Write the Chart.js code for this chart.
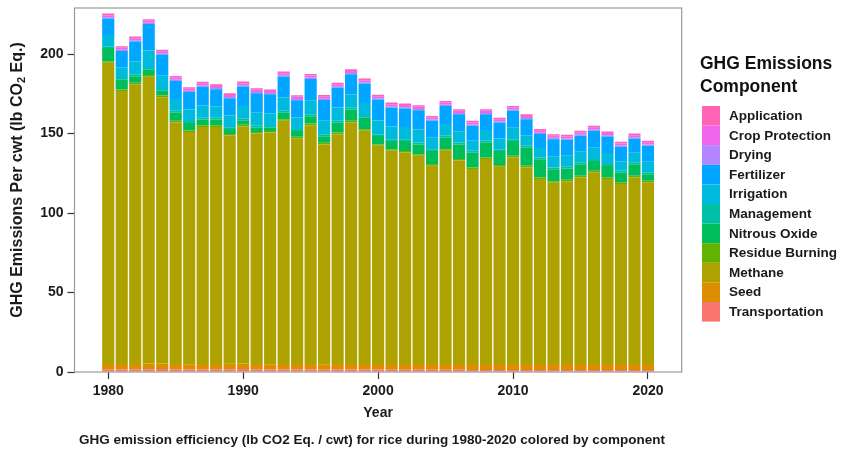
<!DOCTYPE html>
<html><head><meta charset="utf-8">
<script src="https://cdn.jsdelivr.net/npm/chart.js@4.4.1/dist/chart.umd.min.js"></script>
<style>html,body{margin:0;padding:0;background:#fff;}#wrap{width:846px;height:450px;position:relative;}</style>
</head><body><div id="wrap"><canvas id="c" width="846" height="450"></canvas></div>
<script>
const years = [1980,1981,1982,1983,1984,1985,1986,1987,1988,1989,1990,1991,1992,1993,1994,1995,1996,1997,1998,1999,2000,2001,2002,2003,2004,2005,2006,2007,2008,2009,2010,2011,2012,2013,2014,2015,2016,2017,2018,2019,2020];
const transportation = [1.4,1.5,1.5,1.8,1.9,1.6,1.5,1.5,1.5,1.7,1.9,1.6,1.5,1.5,1.5,1.5,1.4,1.5,1.5,1.5,1.5,1.4,1.4,1.4,1.4,1.4,1.4,1.3,1.3,1.3,1.3,1.3,1.3,1.3,1.3,1.3,1.3,1.3,1.3,1.3,1.3];
const seed = [3.6,3.5,3.5,3.5,3.4,3.4,3.4,3.5,3.5,3.5,3.4,3.4,3.4,3.5,3.5,3.5,3.5,3.5,3.5,3.5,3.5,3.6,3.6,3.6,3.6,3.6,3.6,3.7,3.7,3.7,3.7,3.7,3.7,3.7,3.7,3.7,3.7,3.7,3.7,3.7,3.7];
const methane = [189.5,171.8,176.0,180.5,167.6,152.0,146.1,149.2,149.2,143.6,149.2,145.0,145.7,153.0,142.0,150.3,138.3,144.6,152.0,146.7,137.3,134.2,133.1,131.0,124.8,134.2,128.0,122.7,129.0,124.2,130.0,123.7,116.4,114.0,115.0,117.4,120.6,116.4,113.3,117.4,114.3];
const residueBurning = [1.0,1.0,1.0,1.0,1.0,1.0,1.0,1.0,1.0,1.0,1.0,1.0,1.0,1.0,1.0,1.0,1.0,1.0,1.0,1.0,1.0,1.0,1.0,1.0,1.0,1.0,1.0,1.0,1.0,1.0,1.0,1.0,1.0,1.0,1.0,1.0,1.0,1.0,1.0,1.0,1.0];
const nitrousOxide = [8.3,6.0,4.1,3.3,3.0,5.1,4.7,3.6,3.6,3.0,2.6,2.7,2.0,4.1,3.6,4.6,4.1,6.2,7.1,7.2,5.1,5.1,6.2,6.2,8.2,7.2,9.2,9.3,9.3,8.8,9.3,11.4,11.4,7.5,7.0,7.3,6.2,7.2,6.1,7.3,4.1];
const management = [1.2,1.2,1.2,1.2,1.2,1.2,1.2,1.2,1.2,1.2,1.2,1.2,1.2,1.2,1.2,1.2,1.2,1.2,1.2,1.2,1.2,1.2,1.2,1.2,1.2,1.2,1.2,1.2,1.2,1.2,1.2,1.2,1.2,1.2,1.2,1.2,1.2,1.2,1.2,1.2,1.2];
const irrigation = [7.0,6.8,8.2,11.0,8.6,7.5,7.3,7.8,7.2,7.3,8.1,8.2,8.0,8.6,7.3,8.9,8.6,8.4,8.4,8.2,8.7,8.0,7.7,8.1,7.1,7.5,7.1,6.3,6.7,6.7,7.1,6.7,5.9,7.1,6.8,6.7,7.1,7.0,6.0,6.0,6.7];
const fertilizer = [10.4,10.1,12.4,16.6,13.0,11.3,10.9,11.7,10.7,10.9,12.2,12.3,11.9,13.0,10.9,13.4,13.0,12.5,12.6,12.2,13.1,11.9,11.6,12.2,10.7,11.3,10.7,9.4,10.0,10.0,10.7,10.0,8.8,10.7,10.1,10.0,10.7,10.4,9.1,9.0,10.1];
const drying = [0.8,0.8,0.8,0.8,0.8,0.8,0.8,0.8,0.8,0.8,0.8,0.8,0.8,0.8,0.8,0.8,0.8,0.8,0.8,0.8,0.8,0.8,0.8,0.8,0.8,0.8,0.8,0.8,0.8,0.8,0.8,0.8,0.8,0.8,0.8,0.8,0.8,0.8,0.8,0.8,0.8];
const cropProtection = [1.3,1.3,1.3,1.3,1.3,1.3,1.3,1.3,1.3,1.3,1.3,1.3,1.3,1.3,1.3,1.3,1.3,1.3,1.3,1.3,1.3,1.3,1.3,1.3,1.3,1.3,1.3,1.3,1.3,1.3,1.3,1.3,1.3,1.3,1.3,1.3,1.3,1.3,1.3,1.3,1.3];
const application = [1.0,1.0,1.0,1.0,1.0,1.0,1.0,1.0,1.0,1.0,1.0,1.0,1.0,1.0,1.0,1.0,1.0,1.0,1.0,1.0,1.0,1.0,1.0,1.0,1.0,1.0,1.0,1.0,1.0,1.0,1.0,1.0,1.0,1.0,1.0,1.0,1.0,1.0,1.0,1.0,1.0];
const componentNames = ["Transportation","Seed","Methane","Residue Burning","Nitrous Oxide","Management","Irrigation","Fertilizer","Drying","Crop Protection","Application"];
const componentValues = [transportation,seed,methane,residueBurning,nitrousOxide,management,irrigation,fertilizer,drying,cropProtection,application];
const componentColors = ["#F8766D","#DB8E00","#AEA200","#64B200","#00BD5C","#00C1A7","#00BADE","#00A6FF","#B385FF","#EF67EB","#FF63B6"];
const yTicks = [0,50,100,150,200];
const xTicks = [1980,1990,2000,2010,2020];

const FONT = "'Liberation Sans', Arial, sans-serif";
const datasets = componentNames.map((n,i)=>({
  label:n,
  data: years.map((y,j)=>({x:y,y:componentValues[i][j]})),
  backgroundColor: componentColors[i],
  borderWidth:0,
  barPercentage:0.9,
  categoryPercentage:1.0
}));

const deco = {
  id:'deco',
  afterDraw(chart){
    const ctx = chart.ctx, a = chart.chartArea;
    ctx.save();
    ctx.strokeStyle = '#9a9a9a'; ctx.lineWidth = 1.2;
    ctx.strokeRect(a.left, a.top, a.right-a.left, a.bottom-a.top);
    ctx.fillStyle = '#1a1a1a';
    ctx.textBaseline = 'middle';
    ctx.font = 'bold 14px '+FONT; ctx.textAlign='center';
    ctx.fillText('Year', (a.left+a.right)/2, 413);
    ctx.font = 'bold 13.5px '+FONT;
    ctx.fillText('GHG emission efficiency (lb CO2 Eq. / cwt) for rice during 1980-2020 colored by component', 372, 440);
    ctx.save();
    ctx.translate(18, 180);
    ctx.rotate(-Math.PI/2);
    const parts = [['GHG Emissions Per cwt (lb CO',16,0],['2',11,4],[' Eq.)',16,0]];
    let total = 0;
    parts.forEach(p=>{ctx.font='bold '+p[1]+'px '+FONT; total += ctx.measureText(p[0]).width;});
    let x = -total/2; ctx.textAlign='left';
    parts.forEach(p=>{ctx.font='bold '+p[1]+'px '+FONT; ctx.fillText(p[0], x, p[2]); x += ctx.measureText(p[0]).width;});
    ctx.restore();
    ctx.textAlign='left';
    ctx.font = 'bold 17.5px '+FONT; ctx.fillStyle='#111';
    ctx.fillText('GHG Emissions', 700, 64);
    ctx.fillText('Component', 700, 87);
    const n = componentNames.length, kh = 19.6;
    for (let k=0;k<n;k++){
      const i = n-1-k;
      const yy = 106 + k*kh;
      ctx.fillStyle = componentColors[i];
      ctx.fillRect(702, yy, 18, kh);
      ctx.fillStyle = '#1a1a1a';
      ctx.font = 'bold 13.5px '+FONT;
      ctx.fillText(componentNames[i], 729, yy+kh/2+0.5);
    }
    ctx.restore();
  }
};

new Chart(document.getElementById('c'), {
  type:'bar',
  data:{datasets},
  options:{
    responsive:false, animation:false,
    layout:{padding:{left:0,right:164.3,top:8,bottom:0}},
    plugins:{legend:{display:false}, tooltip:{enabled:false}},
    scales:{
      x:{type:'linear', stacked:true, min:1977.5, max:2022.5, offset:false,
        afterFit(s){s.height=78; s.paddingLeft=0; s.paddingRight=0;},
        border:{display:false},
        grid:{display:true, offset:false, drawOnChartArea:false, drawTicks:true, tickLength:7, tickColor:'#333', tickWidth:1.2},
        afterBuildTicks(s){s.ticks = xTicks.map(v=>({value:v}));},
        ticks:{autoSkip:false, maxRotation:0, padding:4, color:'#1a1a1a', font:{family:FONT, size:14, weight:'bold'}, callback:(v)=>String(v)}
      },
      y:{stacked:true, min:0, max:229,
        afterFit(s){s.width=74.5; s.paddingTop=0; s.paddingBottom=0;},
        border:{display:false},
        grid:{display:true, offset:false, drawOnChartArea:false, drawTicks:true, tickLength:7, tickColor:'#333', tickWidth:1.2},
        afterBuildTicks(s){s.ticks = yTicks.map(v=>({value:v}));},
        ticks:{padding:4, color:'#1a1a1a', font:{family:FONT, size:14, weight:'bold'}, callback:(v)=>String(v)}
      }
    }
  },
  plugins:[deco]
});
</script></body></html>
